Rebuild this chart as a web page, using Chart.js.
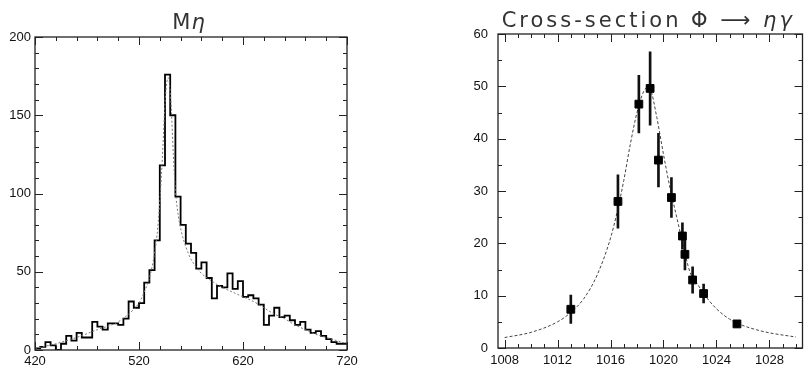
<!DOCTYPE html>
<html>
<head>
<meta charset="utf-8">
<script src="https://cdn.jsdelivr.net/npm/chart.js@4/dist/chart.umd.min.js"></script>
<style>
  body { margin: 0; background: #fff; }
  canvas { position: absolute; top: 0; }
  #massChart { left: 0; }
  #xsecChart { left: 420px; }
</style>
</head>
<body>
<canvas id="massChart" width="380" height="373"></canvas>
<canvas id="xsecChart" width="389" height="373"></canvas>
<script>
// ---- left panel: M(eta) histogram, 5 MeV bins from 420
const massBinStart = 420;
const massBinWidth = 5;
const massCounts = [
  1, 2, 5, 3, 0, 4, 9, 6, 11, 8,
  8, 18, 15, 13, 17, 17, 16, 20, 31, 27,
  30, 43, 51, 70, 118, 176, 150, 98, 80, 68,
  62, 52, 56, 46, 33, 41, 40, 49, 39, 44,
  34, 35, 33, 29, 16, 22, 27, 21, 22, 19,
  16, 18, 13, 11, 12, 9, 7, 5, 4, 4
];
// fitted curve
const massFitX = [420, 440, 460, 480, 500, 510, 520, 525, 530, 535, 538, 541, 543, 545, 547, 548, 549, 551, 553, 555, 558, 561, 565, 570, 575, 580, 590, 600, 610, 620, 630, 640, 650, 660, 670, 680, 690, 700, 710, 720];
const massFitY = [1, 4, 8, 13, 18, 23, 30, 37, 46, 62, 78, 105, 130, 158, 172, 174, 172, 155, 125, 102, 85, 75, 66, 58, 53, 49, 44, 40, 37, 34, 31, 27, 23, 20, 16, 13, 10, 8, 6, 4];

// ---- right panel: cross-section phi -> eta gamma
const xsecEnergy = [1013.0, 1016.56, 1018.14, 1018.99, 1019.62, 1020.6, 1021.43, 1021.62, 1022.2, 1023.03, 1025.55];
const xsecValue  = [7.4, 28.0, 46.6, 49.6, 35.9, 28.75, 21.4, 17.9, 13.0, 10.4, 4.6];
const xsecError  = [2.7, 5.1, 5.5, 7.0, 5.1, 3.8, 2.5, 3.0, 2.5, 1.8, 0.6];
const xsecFitX = [1008, 1010, 1012, 1013, 1014, 1015, 1016, 1016.5, 1017, 1017.5, 1018, 1018.5, 1018.8, 1019, 1019.5, 1020, 1020.5, 1021, 1021.5, 1022, 1022.5, 1023, 1024, 1025, 1026, 1027, 1028, 1030];
const xsecFitY = [2.0, 3.0, 5.0, 6.8, 9.5, 14, 21, 26, 32, 39, 45, 49, 49.8, 49.5, 44, 37, 30.5, 25, 19.5, 14.5, 12.5, 10.5, 7.5, 5.5, 4.3, 3.5, 2.9, 2.1];

const tickFont = { family: "'Liberation Sans', Arial, sans-serif", size: 13 };

// frame with inward ticks on all four sides, plus the panel title
const frameTicks = {
  id: 'frameTicks',
  afterDraw(chart, args, opts) {
    const ctx = chart.ctx, a = chart.chartArea;
    const xs = chart.scales.x, ys = chart.scales.y;
    ctx.save();
    ctx.strokeStyle = '#222';
    ctx.lineWidth = 1.3;
    ctx.strokeRect(a.left, a.top, a.right - a.left, a.bottom - a.top);
    ctx.lineWidth = 1;
    ctx.beginPath();
    xs.ticks.forEach(t => {
      const px = Math.round(xs.getPixelForValue(t.value)) + 0.5;
      const len = opts.xMajor(t.value) ? 8 : 4;
      ctx.moveTo(px, a.bottom); ctx.lineTo(px, a.bottom - len);
      ctx.moveTo(px, a.top); ctx.lineTo(px, a.top + len);
    });
    ys.ticks.forEach(t => {
      const py = Math.round(ys.getPixelForValue(t.value)) + 0.5;
      const len = opts.yMajor(t.value) ? 8 : 4;
      ctx.moveTo(a.left, py); ctx.lineTo(a.left + len, py);
      ctx.moveTo(a.right, py); ctx.lineTo(a.right - len, py);
    });
    ctx.stroke();

    // title: plain part then italic greek part
    ctx.fillStyle = '#333';
    ctx.textBaseline = 'alphabetic';
    ctx.textAlign = 'left';
    ctx.letterSpacing = opts.spacing + 'px';
    const fonts = opts.title.map(p => (p.italic ? 'italic ' : '') + "21px 'DejaVu Sans', sans-serif");
    let total = 0;
    opts.title.forEach((p, i) => { ctx.font = fonts[i]; total += ctx.measureText(p.text).width; });
    let x = (a.left + a.right) / 2 + opts.shift - total / 2;
    opts.title.forEach((p, i) => {
      ctx.font = fonts[i];
      ctx.fillText(p.text, x, opts.baseline);
      x += ctx.measureText(p.text).width;
    });
    ctx.restore();
  }
};

function axis(min, max, step, isMajor, pad, fit) {
  return {
    type: 'linear', min: min, max: max,
    grid: { display: false, drawTicks: false },
    border: { display: false },
    ticks: {
      stepSize: step, autoSkip: false, maxRotation: 0, maxTicksLimit: 100,
      padding: pad, color: '#111', font: tickFont,
      callback: v => isMajor(v) ? String(v) : ''
    },
    afterFit: fit
  };
}

const massMajorX = v => (v - 420) % 100 === 0;
const massMajorY = v => v % 50 === 0;

new Chart(document.getElementById('massChart'), {
  type: 'line',
  data: {
    datasets: [
      {
        label: 'fit',
        data: massFitX.map((x, i) => ({ x: x, y: massFitY[i] })),
        borderColor: '#777',
        borderWidth: 1,
        borderDash: [2, 2],
        pointRadius: 0,
        cubicInterpolationMode: 'monotone',
        order: 0
      },
      {
        label: 'M eta',
        data: massCounts.map((c, i) => ({ x: massBinStart + i * massBinWidth, y: c }))
          .concat([{ x: massBinStart + massCounts.length * massBinWidth, y: massCounts[massCounts.length - 1] }]),
        borderColor: '#000',
        borderWidth: 1.8,
        stepped: 'before',
        pointRadius: 0,
        order: 1
      }
    ]
  },
  options: {
    responsive: false,
    animation: false,
    layout: { padding: { left: 0, right: 33, top: 37, bottom: 0 } },
    plugins: {
      legend: { display: false },
      tooltip: { enabled: false },
      frameTicks: {
        xMajor: massMajorX, yMajor: massMajorY,
        title: [{ text: 'M' }, { text: 'η', italic: true }],
        spacing: 1, baseline: 29, shift: -2
      }
    },
    scales: {
      x: axis(420, 720, 20, massMajorX, 4, s => { s.height = 23; }),
      y: axis(0, 200, 10, massMajorY, 4, s => { s.width = 35; })
    }
  },
  plugins: [frameTicks]
});

const xsecMajorX = v => (v - 1008) % 4 === 0;
const xsecMajorY = v => v % 10 === 0;

new Chart(document.getElementById('xsecChart'), {
  type: 'line',
  data: {
    datasets: [
      {
        type: 'line',
        label: 'fit',
        data: xsecFitX.map((x, i) => ({ x: x, y: xsecFitY[i] })),
        borderColor: '#444',
        borderWidth: 1,
        borderDash: [3, 2],
        pointRadius: 0,
        cubicInterpolationMode: 'monotone',
        order: 2
      },
      {
        type: 'bar',
        label: 'errors',
        data: xsecEnergy.map((x, i) => ({ x: x, y: [xsecValue[i] - xsecError[i], xsecValue[i] + xsecError[i]] })),
        backgroundColor: '#111',
        barThickness: 2,
        grouped: false,
        order: 1
      },
      {
        type: 'scatter',
        label: 'data',
        data: xsecEnergy.map((x, i) => ({ x: x, y: xsecValue[i] })),
        pointStyle: 'rect',
        pointRadius: 5.5,
        backgroundColor: '#000',
        borderColor: '#000',
        order: 0
      }
    ]
  },
  options: {
    responsive: false,
    animation: false,
    layout: { padding: { left: 0, right: 4, top: 34, bottom: 0 } },
    plugins: {
      legend: { display: false },
      tooltip: { enabled: false },
      frameTicks: {
        xMajor: xsecMajorX, yMajor: xsecMajorY,
        title: [{ text: 'Cross-section Φ ⟶ ' }, { text: 'ηγ', italic: true }],
        spacing: 3, baseline: 27, shift: -2
      }
    },
    scales: {
      x: axis(1008, 1030, 1, xsecMajorX, 5, s => { s.height = 25; }),
      y: axis(0, 60, 5, xsecMajorY, 10, s => { s.width = 78; })
    }
  },
  plugins: [frameTicks]
});
</script>
</body>
</html>
